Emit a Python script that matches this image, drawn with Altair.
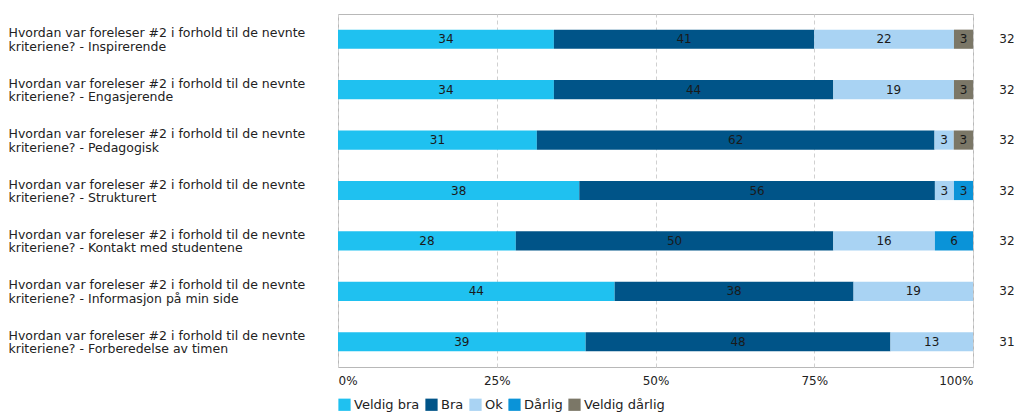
import altair as alt
import pandas as pd

questions = [
    "Hvordan var foreleser #2 i forhold til de nevnte|kriteriene? - Inspirerende",
    "Hvordan var foreleser #2 i forhold til de nevnte|kriteriene? - Engasjerende",
    "Hvordan var foreleser #2 i forhold til de nevnte|kriteriene? - Pedagogisk",
    "Hvordan var foreleser #2 i forhold til de nevnte|kriteriene? - Strukturert",
    "Hvordan var foreleser #2 i forhold til de nevnte|kriteriene? - Kontakt med studentene",
    "Hvordan var foreleser #2 i forhold til de nevnte|kriteriene? - Informasjon på min side",
    "Hvordan var foreleser #2 i forhold til de nevnte|kriteriene? - Forberedelse av timen",
]
categories = ["Veldig bra", "Bra", "Ok", "Dårlig", "Veldig dårlig"]
colors = ["#1fc1f0", "#005488", "#a9d3f3", "#0a93d8", "#7b7767"]

veldig_bra = [34, 34, 31, 38, 28, 44, 39]
bra = [41, 44, 62, 56, 50, 38, 48]
ok = [22, 19, 3, 3, 16, 19, 13]
darlig = [0, 0, 0, 3, 6, 0, 0]
veldig_darlig = [3, 3, 3, 0, 0, 0, 0]
n_resp = [32, 32, 32, 32, 32, 32, 31]

series = [veldig_bra, bra, ok, darlig, veldig_darlig]
rows = []
for qi, q in enumerate(questions):
    for ci, c in enumerate(categories):
        v = series[ci][qi]
        if v > 0:
            rows.append({"q": q, "cat": c, "order": ci, "value": v})
df = pd.DataFrame(rows)
ndf = pd.DataFrame({"q": questions, "n": n_resp})

W, H = 635, 353
FONT = "DejaVu Sans"

base = alt.Chart(df).transform_joinaggregate(
    total="sum(value)", groupby=["q"]
).transform_stack(
    stack="value", groupby=["q"], as_=["s0", "s1"], sort=[alt.SortField("order", "ascending")]
).transform_calculate(
    x0="datum.s0 / datum.total",
    x1="datum.s1 / datum.total",
    xm="(datum.s0 + datum.s1) / 2 / datum.total",
)

yenc = alt.Y(
    "q:N", sort=questions, title=None,
    scale=alt.Scale(paddingInner=0.62, paddingOuter=0.31),
    axis=alt.Axis(
        labelExpr="split(datum.label, '|')", labelAlign="left", labelPadding=330,
        ticks=False, domain=False, labelFont=FONT, labelFontSize=12.5,
        labelColor="#222", labelLineHeight=13.5, labelLimit=400,
        labelBaseline="middle", labelOffset=-6,
    ),
)

xscale = alt.Scale(domain=[0, 1], nice=False)

bars = base.mark_bar().encode(
    x=alt.X(
        "x0:Q", scale=xscale, title=None,
        axis=alt.Axis(
            values=[0, 0.25, 0.5, 0.75, 1], format=".0%", labelFlush=True,
            grid=True, gridDash=[4, 3], gridColor="#d0d0d0", domain=False, ticks=False,
            labelPadding=8, labelFont=FONT, labelFontSize=12, labelColor="#222",
        ),
    ),
    x2="x1:Q",
    y=yenc,
    color=alt.Color(
        "cat:N", scale=alt.Scale(domain=categories, range=colors), title=None,
        legend=alt.Legend(
            orient="none", legendX=0, legendY=H + 31, direction="horizontal",
            symbolType="square", symbolSize=150, symbolStrokeWidth=0,
            labelFont=FONT, labelFontSize=13, labelColor="#222", columnPadding=5,
            symbolOffset=0, labelOffset=3,
        ),
    ),
)

labels = base.mark_text(font=FONT, fontSize=12, color="#1a1a1a").encode(
    x=alt.X("xm:Q", scale=xscale),
    y=alt.Y("q:N", sort=questions),
    text="value:Q",
)

ntext = alt.Chart(ndf).mark_text(font=FONT, fontSize=12, color="#222").encode(
    x=alt.value(W + 34),
    y=alt.Y("q:N", sort=questions),
    text="n:Q",
)

chart = (bars + labels + ntext).properties(
    width=W, height=H,
    padding={"left": 0, "top": 6, "right": 0, "bottom": 0},
).configure_view(stroke="#b8b8b8", strokeWidth=1)

chart.save("out.html", embed_options={"renderer": "svg", "actions": False})
